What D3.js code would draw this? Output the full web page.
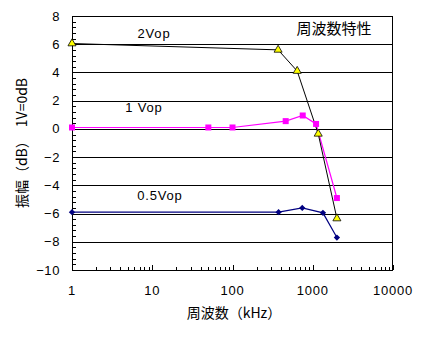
<!DOCTYPE html>
<html><head><meta charset="utf-8">
<script src="https://cdn.jsdelivr.net/npm/d3@7"></script>
<style>
body{margin:0;background:#fff;}
svg{display:block;}
.cjk{font-family:"Noto Sans CJK JP","Noto Sans CJK SC",sans-serif;}
.num{font-family:"Liberation Sans",Arial,sans-serif;}
</style></head>
<body>
<svg id="c" width="430" height="337"></svg>
<script>
// ---- data ----
const xTicks = [1, 10, 100, 1000, 10000];
const yTicks = [-10, -8, -6, -4, -2, 0, 2, 4, 6, 8];
const freq2 = [1, 370, 640, 1170, 2000];
const vop2  = [6.05, 5.6, 4.1, -0.35, -6.35];
const freq1 = [1, 50, 100, 460, 750, 1100, 2000];
const vop1  = [0.1, 0.1, 0.1, 0.55, 0.95, 0.35, -4.9];
const freq05 = [1, 375, 740, 1340, 2000];
const vop05  = [-5.9, -5.9, -5.6, -5.95, -7.7];
const seriesLabels = ["2Vop", "1 Vop", "0.5Vop"];
const title = "周波数特性";
const xLabel = "周波数（kHz）";
const yLabel = "振幅（dB）　1V=0dB";

const svg = d3.select("#c");
const L = 72, R = 393, T = 16, B = 270;
const x = d3.scaleLog().domain([1, 10000]).range([L, R]);
const y = d3.scaleLinear().domain([-10, 8]).range([B, T]);
const px = v => Math.round(v) + 0.5;

// gridlines
svg.append("g").selectAll("line").data(yTicks.filter(v => v > -10 && v < 8)).join("line")
  .attr("x1", L).attr("x2", R)
  .attr("y1", d => px(y(d))).attr("y2", d => px(y(d)))
  .attr("stroke", "#000").attr("stroke-width", 1);

// y minor ticks (inside, left)
const yMinor = d3.range(-10, 8.001, 0.4).map(v => +v.toFixed(2));
svg.append("g").selectAll("line").data(yMinor).join("line")
  .attr("x1", L).attr("x2", L + 4)
  .attr("y1", d => px(y(d))).attr("y2", d => px(y(d)))
  .attr("stroke", "#000");

// x ticks (inside, bottom)
const xMinor = [];
[1, 10, 100, 1000].forEach(dec => { for (let k = 2; k <= 9; k++) xMinor.push(dec * k); });
svg.append("g").selectAll("line").data(xMinor).join("line")
  .attr("x1", d => px(x(d))).attr("x2", d => px(x(d)))
  .attr("y1", B).attr("y2", B - 3).attr("stroke", "#000");
svg.append("g").selectAll("line").data(xTicks).join("line")
  .attr("x1", d => px(x(d))).attr("x2", d => px(x(d)))
  .attr("y1", B).attr("y2", B - 5).attr("stroke", "#000");

// frame
svg.append("rect").attr("x", L + 0.5).attr("y", T + 0.5)
  .attr("width", R - L - 1).attr("height", B - T)
  .attr("fill", "none").attr("stroke", "#000");

// tick labels
svg.append("g").selectAll("text").data(yTicks).join("text")
  .attr("class", "num").attr("x", 60).attr("y", d => y(d) + 4.5)
  .attr("text-anchor", "end").attr("font-size", 13).attr("letter-spacing", 0.6)
  .text(d => d < 0 ? "\u2212" + Math.abs(d) : d);
svg.append("g").selectAll("text").data(xTicks).join("text")
  .attr("class", "num").attr("x", d => x(d)).attr("y", 295)
  .attr("text-anchor", "middle").attr("font-size", 13).attr("letter-spacing", 0.8)
  .text(d => d);

// lines
const line = d3.line().x(d => x(d[0])).y(d => y(d[1]));
const s05 = freq05.map((f, i) => [f, vop05[i]]);
const s1 = freq1.map((f, i) => [f, vop1[i]]);
const s2 = freq2.map((f, i) => [f, vop2[i]]);
svg.append("path").datum(s05).attr("d", line).attr("fill", "none").attr("stroke", "#000080").attr("stroke-width", 1.2);
svg.append("path").datum(s1).attr("d", line).attr("fill", "none").attr("stroke", "#ff00ff").attr("stroke-width", 1.2);
svg.append("path").datum(s2).attr("d", line).attr("fill", "none").attr("stroke", "#000").attr("stroke-width", 1);

// markers
svg.append("g").selectAll("path").data(s05).join("path")
  .attr("d", d3.symbol().type(d3.symbolSquare).size(20))
  .attr("transform", d => `translate(${x(d[0])},${y(d[1])}) rotate(45)`)
  .attr("fill", "#000080");
svg.append("g").selectAll("rect").data(s1).join("rect")
  .attr("x", d => x(d[0]) - 3).attr("y", d => y(d[1]) - 3)
  .attr("width", 6).attr("height", 6).attr("fill", "#ff00ff");
svg.append("g").selectAll("path").data(s2).join("path")
  .attr("d", d3.symbol().type(d3.symbolTriangle).size(28))
  .attr("transform", d => `translate(${x(d[0])},${y(d[1])})`)
  .attr("fill", "#ffff00").attr("stroke", "#000").attr("stroke-width", 0.8);

// series labels
svg.append("text").attr("class", "num").attr("x", 154).attr("y", 37.5)
  .attr("text-anchor", "middle").attr("font-size", 13).attr("letter-spacing", 0.8).text(seriesLabels[0]);
svg.append("text").attr("class", "num").attr("x", 144).attr("y", 112)
  .attr("text-anchor", "middle").attr("font-size", 13).attr("letter-spacing", 0.8).text(seriesLabels[1]);
svg.append("text").attr("class", "num").attr("x", 160).attr("y", 199.5)
  .attr("text-anchor", "middle").attr("font-size", 13).attr("letter-spacing", 0.8).text(seriesLabels[2]);

// title
svg.append("text").attr("class", "cjk").attr("x", 334).attr("y", 34)
  .attr("text-anchor", "middle").attr("font-size", 15).text(title);

// axis titles
svg.append("text").attr("class", "cjk").attr("x", 234).attr("y", 318)
  .attr("text-anchor", "middle").attr("font-size", 14).text(xLabel);
svg.append("text").attr("class", "cjk")
  .attr("transform", "translate(27,143) rotate(-90)")
  .attr("text-anchor", "middle").attr("font-size", 14).text(yLabel);
</script>
</body></html>
